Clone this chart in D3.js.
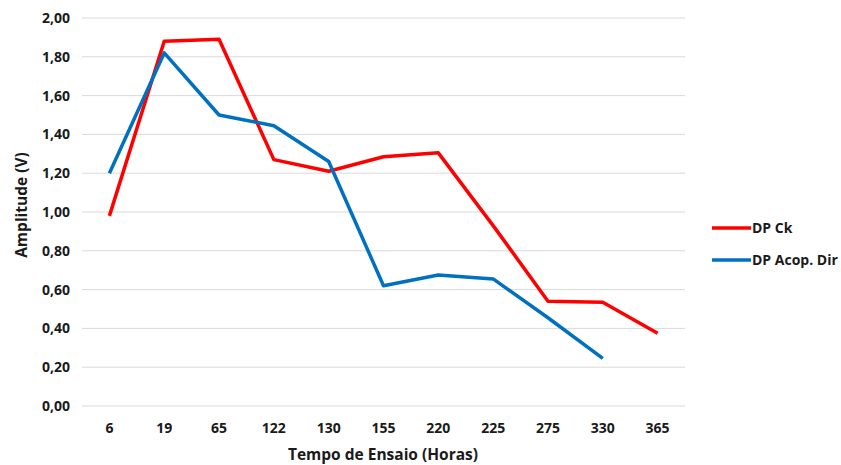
<!DOCTYPE html>
<html><head><meta charset="utf-8">
<script src="https://cdn.jsdelivr.net/npm/d3@7"></script>
<style>body{margin:0;background:#fff;} text{font-family:"Open Sans","DejaVu Sans",sans-serif;font-weight:bold;fill:#1a1a1a;}</style>
</head><body>
<svg id="c" width="841" height="465"></svg>
<script>
const categories = ["6","19","65","122","130","155","220","225","275","330","365"];
const dpCk = [0.98,1.88,1.89,1.27,1.21,1.285,1.305,0.93,0.54,0.535,0.375];
const dpAcop = [1.20,1.82,1.50,1.445,1.26,0.62,0.675,0.655,0.455,0.245,null];
const yTicks = [0,0.2,0.4,0.6,0.8,1.0,1.2,1.4,1.6,1.8,2.0];
const seriesNames = ["DP Ck","DP Acop. Dir"];
const colors = ["#FF0000","#0070C0"];

const svg = d3.select("#c");
const L=82,R=685,T=18,B=406;
const x = d3.scaleBand().domain(categories).range([L,R]);
const y = d3.scaleLinear().domain([0,2]).range([B,T]);

svg.append("g").selectAll("line").data(yTicks).join("line")
 .attr("x1",L).attr("x2",R).attr("y1",d=>y(d)).attr("y2",d=>y(d))
 .attr("stroke","#d9d9d9").attr("stroke-width",1);

svg.append("g").selectAll("text").data(yTicks).join("text")
 .attr("x",70).attr("y",d=>y(d)).attr("dy","0.35em").attr("text-anchor","end")
 .attr("font-size",14).text(d=>d.toFixed(2).replace(".",","));

svg.append("g").selectAll("text").data(categories).join("text")
 .attr("x",d=>x(d)+x.bandwidth()/2).attr("y",428).attr("dy","0.35em").attr("text-anchor","middle")
 .attr("font-size",14).text(d=>d);

const line = d3.line().defined(d=>d.v!=null).x(d=>x(d.c)+x.bandwidth()/2).y(d=>y(d.v));
[dpCk,dpAcop].forEach((s,i)=>{
  svg.append("path").datum(categories.map((c,j)=>({c,v:s[j]})))
   .attr("d",line).attr("fill","none").attr("stroke",colors[i]).attr("stroke-width",3.5)
   .attr("stroke-linejoin","round");
});

svg.append("text").attr("transform","translate(22,205) rotate(-90)").attr("text-anchor","middle")
 .attr("font-size",15.5).attr("dy","0.35em").text("Amplitude (V)");
svg.append("text").attr("x",383).attr("y",455).attr("text-anchor","middle")
 .attr("font-size",15.5).attr("dy","0.35em").text("Tempo de Ensaio (Horas)");

seriesNames.forEach((n,i)=>{
  const ly = 228 + i*32;
  svg.append("line").attr("x1",712).attr("x2",751).attr("y1",ly).attr("y2",ly)
   .attr("stroke",colors[i]).attr("stroke-width",3.5);
  svg.append("text").attr("x",752).attr("y",ly).attr("dy","0.35em").attr("font-size",14).text(n);
});
</script>
</body></html>
